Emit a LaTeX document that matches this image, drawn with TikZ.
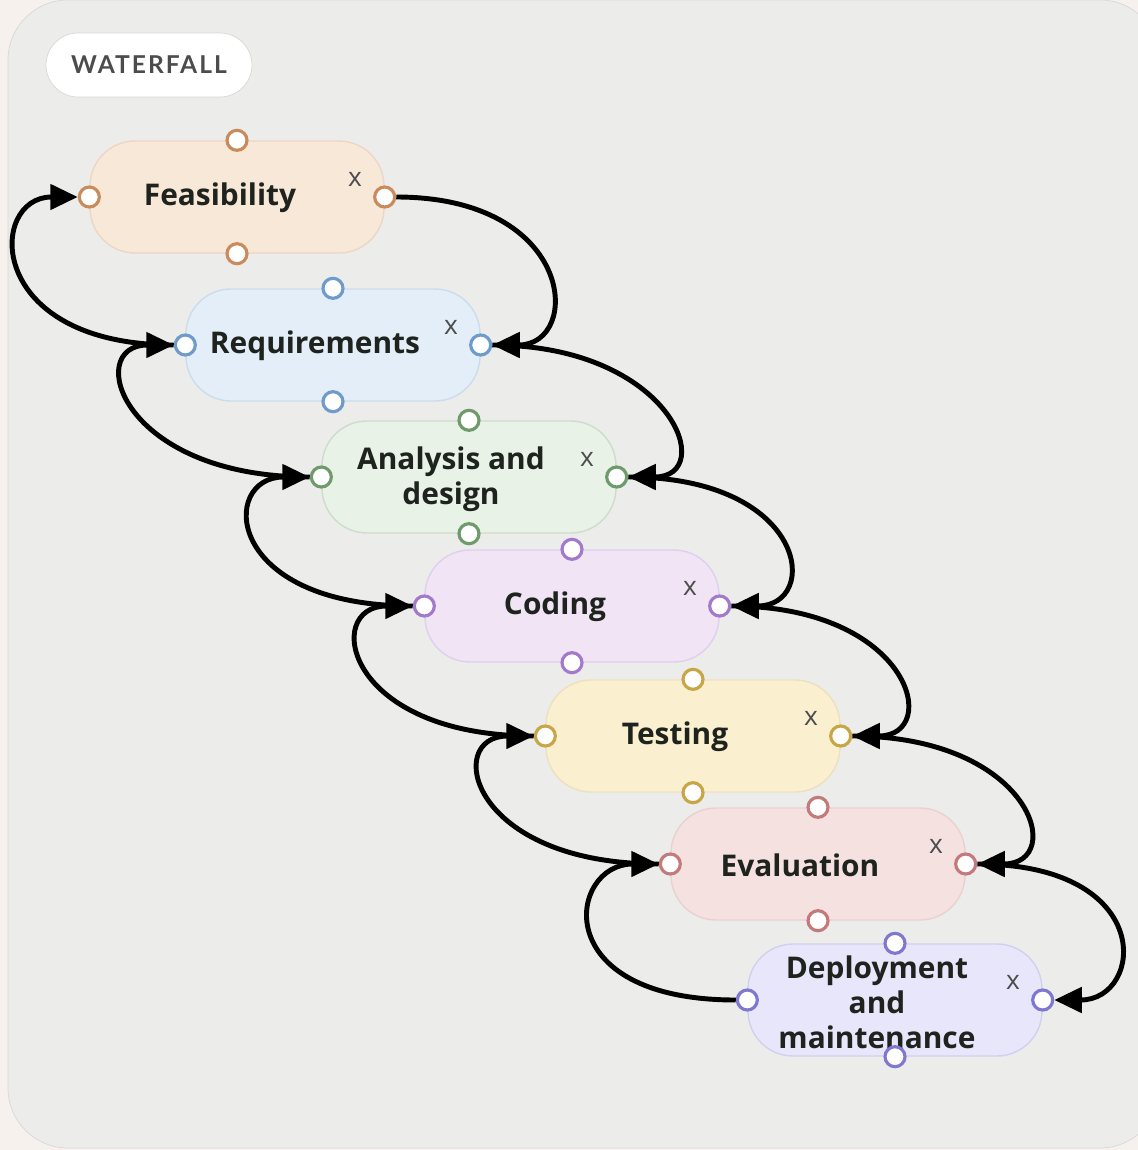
\documentclass[tikz,border=0pt]{standalone}
\usepackage{fontspec}
\setmainfont{Open Sans}
\newfontfamily\tagfont[LetterSpace=8]{Lato}
\usetikzlibrary{arrows.meta}
\definecolor{pagebg}{HTML}{F6F1EC}
\definecolor{panelbg}{HTML}{ECECEA}
\definecolor{panelline}{HTML}{DAD8D4}
\definecolor{inkdark}{HTML}{1E231E}
\definecolor{feafill}{HTML}{F8E8D8}\definecolor{feaport}{HTML}{C98B5B}
\definecolor{reqfill}{HTML}{E4EEF8}\definecolor{reqport}{HTML}{6E9BCB}
\definecolor{anafill}{HTML}{E8F2E6}\definecolor{anaport}{HTML}{6F9A6C}
\definecolor{codfill}{HTML}{F0E4F5}\definecolor{codport}{HTML}{A37ACB}
\definecolor{tesfill}{HTML}{FAF0D0}\definecolor{tesport}{HTML}{C8A648}
\definecolor{evafill}{HTML}{F5E1E0}\definecolor{evaport}{HTML}{C27B7A}
\definecolor{depfill}{HTML}{E8E6FA}\definecolor{depport}{HTML}{7F78CF}
\tikzset{
  step/.style={draw=#1!35!white, line width=0.8pt, rounded corners=0.9cm,
    minimum width=5.88cm, minimum height=2.24cm},
  steptext/.style={font=\fontsize{17}{20}\selectfont\bfseries, text=inkdark, align=center},
  close/.style={font=\fontsize{15}{17}\selectfont, text=black!70},
  port/.style={circle, draw=#1, fill=white, line width=1.8pt, inner sep=0pt, minimum size=0.4cm},
  flow/.style={line width=2.8pt, -{Triangle[length=0.55cm,width=0.5cm]}}
}
\begin{document}
\begin{tikzpicture}[x=0.02cm,y=-0.02cm]
    \fill[pagebg] (0,0) rectangle (1138,1150);
    \useasboundingbox (0,0) rectangle (1138,1150);
    \draw[panelline, fill=panelbg, rounded corners=1.2cm] (8,0) rectangle (1160,1148);
    \node[fill=white, draw=panelline, rounded corners=0.64cm, minimum width=4.12cm, minimum height=1.28cm] (tag) at (149,65) {};
    \node[text=black!70, font=\fontsize{14}{16}\selectfont\tagfont\bfseries] (tagtext) at (tag) {WATERFALL};

    % steps
    \node[step=feaport, fill=feafill] (fea) at (237,197) {};
    \node[step=reqport, fill=reqfill] (req) at (333,345) {};
    \node[step=anaport, fill=anafill] (ana) at (469,477) {};
    \node[step=codport, fill=codfill] (cod) at (572,606) {};
    \node[step=tesport, fill=tesfill] (tes) at (693,736) {};
    \node[step=evaport, fill=evafill] (eva) at (818,864) {};
    \node[step=depport, fill=depfill] (dep) at (895,1000) {};

    \node[steptext] (featext) at (220,198) {Feasibility};
    \node[steptext] (reqtext) at (315,346) {Requirements};
    \node[steptext] (anatext) at (451,479) {Analysis and\\design};
    \node[steptext] (codtext) at (555,607) {Coding};
    \node[steptext] (testext) at (675,737) {Testing};
    \node[steptext] (evatext) at (800,865) {Evaluation};
    \node[steptext] (deptext) at (877,1002) {Deployment\\and\\maintenance};

    % close marks and ports
    \foreach \s/\c in {fea/feaport,req/reqport,ana/anaport,cod/codport,tes/tesport,eva/evaport,dep/depport}{
      \node[close] (\s x) at ([xshift=2.36cm,yshift=0.36cm]\s.center) {x};
      \node[port=\c] (\s n) at (\s.north) {};
      \node[port=\c] (\s s) at (\s.south) {};
      \node[port=\c] (\s w) at (\s.west) {};
      \node[port=\c] (\s e) at (\s.east) {};
    }

    % connectors
    \foreach \a/\b in {fea/req,req/ana,ana/cod,cod/tes,tes/eva,eva/dep}{
      \draw[flow] (\a e.east) .. controls +(180,0) and +(90,0) .. (\b e.east);
      \draw[flow] (\b w.west) .. controls +(-190,0) and +(-90,0) .. (\a w.west);
    }
\end{tikzpicture}
\end{document}
